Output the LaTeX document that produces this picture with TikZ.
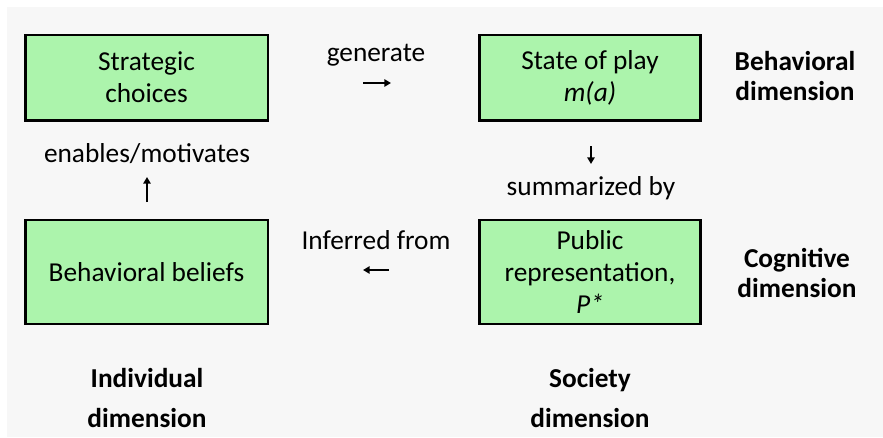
\documentclass[tikz,border=0pt]{standalone}
\usepackage{fontspec}
\setmainfont{Carlito}
\usepackage{xcolor}
\usepackage{tikz}
\usetikzlibrary{arrows.meta}

\definecolor{boxgreen}{RGB}{172,244,172}
\definecolor{backgray}{RGB}{247,247,247}

\tikzset{
  dimbox/.style={draw=black, line width=2pt, fill=boxgreen, align=center, inner sep=0pt,
    font=\fontsize{20.5}{24}\selectfont},
  linktext/.style={align=center, inner sep=0.75pt, font=\fontsize{20.5}{23.5}\selectfont},
  dimtext/.style={align=center, inner sep=0.75pt, font=\fontsize{20.5}{22.5}\selectfont\bfseries},
  bottomtext/.style={dimtext, font=\fontsize{20.5}{29.5}\selectfont\bfseries},
  smallarrow/.style={-{Triangle[length=5pt,width=5.5pt]}, line width=1.5pt}
}

\begin{document}
\begin{tikzpicture}[x=0.75pt,y=0.75pt,yscale=-1,xscale=1]
\useasboundingbox (0,0) rectangle (883,437);
%Background
\fill [white] (0,0) rectangle (883,437);
\fill [backgray] (7,7) rectangle (883,437);

%Shape: Rectangle [Strategic choices]
\node [dimbox, minimum width=182pt, minimum height=64pt] (choices) at (146.5,77.5) {Strategic\\choices};
%Shape: Rectangle [State of play]
\node [dimbox, minimum width=165.5pt, minimum height=64pt] (play) at (590,77.5) {State of play\\\textit{m(a)}};
%Shape: Rectangle [Behavioral beliefs]
\node [dimbox, minimum width=182pt, minimum height=78pt] (beliefs) at (146.5,272) {Behavioral beliefs};
%Shape: Rectangle [Public representation]
\node [dimbox, minimum width=165.5pt, minimum height=78pt] (public) at (590,272) {Public\\representation,\\\textit{P*}};

% Text Node
\node [linktext] (generate) at (376,55) {generate};
% Text Node
\node [linktext] (enables) at (147,154) {enables/motivates};
% Text Node
\node [linktext] (summarized) at (591,188) {summarized by};
% Text Node
\node [linktext] (inferred) at (376,240) {Inferred from};

% Text Node
\node [dimtext] (behavioral) at (795,76) {Behavioral\\dimension};
% Text Node
\node [dimtext] (cognitive) at (797,273) {Cognitive\\dimension};
% Text Node
\node [bottomtext] (individual) at (147,398) {Individual\\dimension};
% Text Node
\node [bottomtext] (society) at (590,398) {Society\\dimension};

%Small arrows
\coordinate (genA) at (363,83);
\coordinate (genB) at (391,83);
\draw [smallarrow] (genA) -- (genB);
\coordinate (enaA) at (147,202);
\coordinate (enaB) at (147,177);
\draw [smallarrow] (enaA) -- (enaB);
\coordinate (sumA) at (591,146);
\coordinate (sumB) at (591,164);
\draw [smallarrow] (sumA) -- (sumB);
\coordinate (infA) at (389,270);
\coordinate (infB) at (363,270);
\draw [smallarrow] (infA) -- (infB);

\end{tikzpicture}
\end{document}
